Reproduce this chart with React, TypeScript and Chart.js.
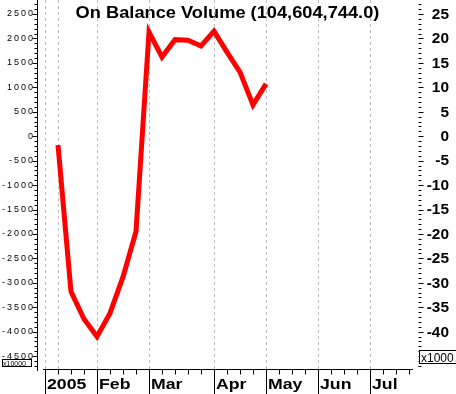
import React, { useEffect, useRef } from "react";
import { Chart, registerables } from "chart.js";

Chart.register(...registerables);

const TITLE = "On Balance Volume (104,604,744.0)";
// weekly points (week index from start of 2005)
const WEEKS = [1, 2, 3, 4, 5, 6, 7, 8, 9, 10, 11, 12, 13, 14, 15, 16, 17];
const OBV = [-180, -3180, -3740, -4100, -3620, -2880, -1950, 2130, 1620, 1975, 1965, 1845, 2150, 1720, 1310, 640, 1070];
const MONTH_LABELS = ["2005", "Feb", "Mar", "Apr", "May", "Jun", "Jul"];
const MONTH_WEEKS = [0, 4, 8, 13, 17, 21, 25];
const GRID_WEEKS = [0, 1, 4, 8, 13, 17, 21, 25];
const LEFT_TICKS = [2500, 2000, 1500, 1000, 500, 0, -500, -1000, -1500, -2000, -2500, -3000, -3500, -4000, -4500];
const RIGHT_TICKS = [25, 20, 15, 10, 5, 0, -5, -10, -15, -20, -25, -30, -35, -40];
const X_MIN = -0.615;
const X_MAX = 28.69;
const Y_MIN = -4763;
const Y_MAX = 2786;
const RIGHT_FACTOR = 100;

function wideText(ctx: any, text: string, x: number, y: number, sx: number, align: string) {
  ctx.save();
  ctx.translate(x, y);
  ctx.scale(sx, 1);
  ctx.textAlign = align;
  ctx.fillText(text, 0, 0);
  ctx.restore();
}

const decor = {
  id: "decor",
  beforeDatasetsDraw(chart: any) {
    const { ctx, chartArea: a, scales } = chart;
    const x = scales.x;
    ctx.save();
    ctx.strokeStyle = "#bdbdbd";
    ctx.lineWidth = 1;
    ctx.setLineDash([3, 3]);
    for (const w of GRID_WEEKS) {
      const px = Math.round(x.getPixelForValue(w)) + 0.5;
      ctx.beginPath();
      ctx.moveTo(px, a.top);
      ctx.lineTo(px, a.bottom);
      ctx.stroke();
    }
    ctx.restore();
  },
  afterDraw(chart: any) {
    const { ctx, chartArea: a, scales } = chart;
    const x = scales.x;
    const y = scales.y;
    const y1 = scales.y1;
    const W = chart.width;
    const H = chart.height;
    ctx.save();
    ctx.strokeStyle = "#000";
    ctx.fillStyle = "#000";
    ctx.lineWidth = 1;
    ctx.setLineDash([]);

    // left axis line
    const lx = Math.round(a.left) + 0.5;
    ctx.beginPath();
    ctx.moveTo(lx, 0);
    ctx.lineTo(lx, a.bottom + 2);
    ctx.stroke();
    for (let v = -4700; v <= 2700; v += 100) {
      const py = Math.round(y.getPixelForValue(v)) + 0.5;
      const len = v % 500 === 0 ? 5 : 3;
      ctx.beginPath();
      ctx.moveTo(lx - len, py);
      ctx.lineTo(lx, py);
      ctx.stroke();
    }
    ctx.font = "9px 'Liberation Sans', Arial, sans-serif";
    ctx.textBaseline = "middle";
    try { (ctx as any).letterSpacing = "2px"; } catch (e) {}
    for (const v of LEFT_TICKS) {
      ctx.textAlign = "right";
      ctx.fillText(String(v), a.left - 2, y.getPixelForValue(v));
    }
    try { (ctx as any).letterSpacing = "0px"; } catch (e) {}

    // right ticks
    const rx = Math.round(a.right) + 0.5;
    for (let v = -47; v <= 27; v += 1) {
      const py = Math.round(y1.getPixelForValue(v)) + 0.5;
      const len = v % 5 === 0 ? 5 : 3;
      ctx.beginPath();
      ctx.moveTo(rx, py);
      ctx.lineTo(rx + len, py);
      ctx.stroke();
    }
    ctx.font = "bold 14px 'Liberation Sans', Arial, sans-serif";
    ctx.textBaseline = "middle";
    for (const v of RIGHT_TICKS) {
      wideText(ctx, String(v), W - 7, y1.getPixelForValue(v) + 1, 1.1, "right");
    }

    // x axis
    const by = Math.round(a.bottom) + 0.5;
    const x0 = x.getPixelForValue(0) - 2;
    const x1 = x.getPixelForValue(28.3);
    ctx.beginPath();
    ctx.moveTo(x0, by);
    ctx.lineTo(x1, by);
    ctx.stroke();
    for (let w = 0; w <= 28; w++) {
      const px = Math.round(x.getPixelForValue(w)) + 0.5;
      ctx.beginPath();
      ctx.moveTo(px, by);
      ctx.lineTo(px, by + (MONTH_WEEKS.includes(w) ? H : 5));
      ctx.stroke();
    }
    ctx.font = "bold 15px 'Liberation Sans', Arial, sans-serif";
    ctx.textBaseline = "alphabetic";
    MONTH_LABELS.forEach((lab, i) => {
      const px = Math.round(x.getPixelForValue(MONTH_WEEKS[i])) + 2;
      wideText(ctx, lab, px, a.bottom + 20, 1.18, "left");
    });

    // left unit box
    ctx.fillStyle = "#fff";
    ctx.fillRect(2, 359, 29, 8);
    ctx.strokeRect(2.5, 359.5, 29, 7);
    ctx.fillStyle = "#000";
    ctx.font = "7px 'Liberation Sans', Arial, sans-serif";
    ctx.textAlign = "left";
    ctx.textBaseline = "alphabetic";
    ctx.save();
    ctx.beginPath();
    ctx.rect(3, 360, 28, 6);
    ctx.clip();
    ctx.fillText("x10000", 3, 366);
    ctx.restore();

    // right unit box
    ctx.fillStyle = "#fff";
    ctx.fillRect(a.right + 1, 350, W, 14);
    ctx.strokeRect(Math.round(a.right) + 1.5, 350.5, 50, 13);
    ctx.fillStyle = "#000";
    ctx.font = "12px 'Liberation Sans', Arial, sans-serif";
    ctx.textAlign = "left";
    ctx.fillText("x1000", a.right + 3, 362);

    // title
    ctx.font = "bold 16px 'Liberation Sans', Arial, sans-serif";
    ctx.textBaseline = "alphabetic";
    wideText(ctx, TITLE, (a.left + a.right) / 2, 18, 1.14, "center");
    ctx.restore();
  },
};

export default function App() {
  const ref = useRef<HTMLCanvasElement | null>(null);
  useEffect(() => {
    if (!ref.current) return;
    const chart = new Chart(ref.current, {
      type: "line",
      data: {
        datasets: [
          {
            data: WEEKS.map((w, i) => ({ x: w, y: OBV[i] })),
            borderColor: "#ff0000",
            borderWidth: 5,
            pointRadius: 0,
            tension: 0,
            yAxisID: "y",
          },
        ],
      },
      options: {
        animation: false,
        responsive: false,
        devicePixelRatio: 1,
        layout: { padding: 0 },
        plugins: { legend: { display: false }, tooltip: { enabled: false }, title: { display: false } },
        scales: {
          x: {
            type: "linear",
            min: X_MIN,
            max: X_MAX,
            position: "bottom",
            ticks: { display: false },
            grid: { display: false },
            border: { display: false },
            afterFit: (s: any) => { s.height = 25; },
          },
          y: {
            type: "linear",
            min: Y_MIN,
            max: Y_MAX,
            position: "left",
            ticks: { display: false },
            grid: { display: false },
            border: { display: false },
            afterFit: (s: any) => { s.width = 37; },
          },
          y1: {
            type: "linear",
            min: Y_MIN / RIGHT_FACTOR,
            max: Y_MAX / RIGHT_FACTOR,
            position: "right",
            ticks: { display: false },
            grid: { display: false },
            border: { display: false },
            afterFit: (s: any) => { s.width = 38; },
          },
        },
      },
      plugins: [decor],
    });
    return () => chart.destroy();
  }, []);
  return (
    <div style={{ position: "fixed", left: 0, top: 0, width: 456, height: 394, background: "#fff" }}>
      <canvas ref={ref} width={456} height={394} style={{ display: "block" }} />
    </div>
  );
}
